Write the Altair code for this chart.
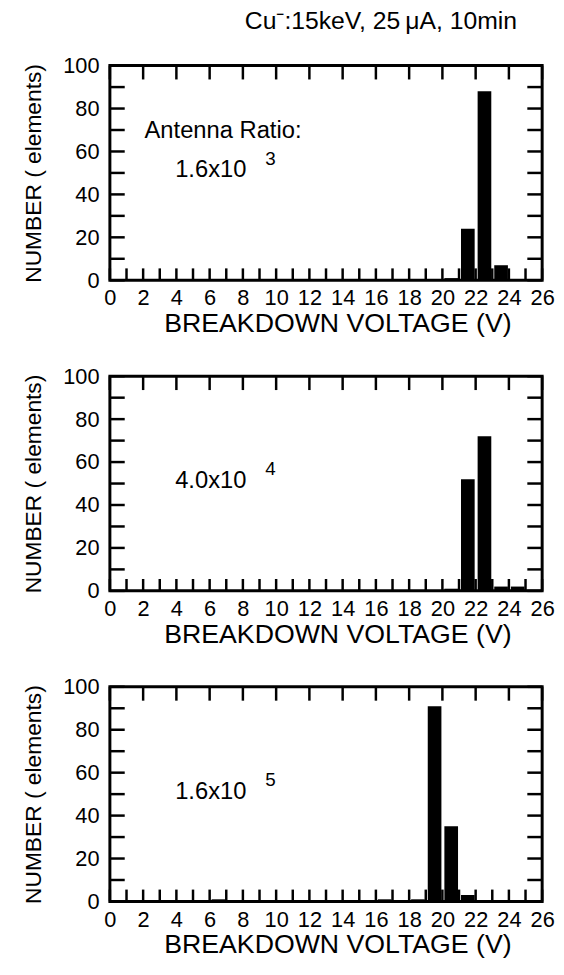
import altair as alt
import pandas as pd

# ---- data ----
title_text = ["Cu\u207b:15keV, 25\u2009\u03bcA, 10min"]
x_label_values = list(range(0, 27, 2))
x_minor_values = list(range(0, 27, 1))
y_label_values = list(range(0, 101, 20))
y_tick_values = list(range(0, 101, 10))

p1_start = [20, 21, 22, 23]
p1_count = [1, 24, 88, 7]
p2_start = [20, 21, 22, 23, 24]
p2_count = [1, 52, 72, 2, 2]
p3_start = [6, 16, 18, 19, 20, 21]
p3_count = [1, 1, 1, 91, 35, 3]

ratio_label = ["Antenna Ratio:"]
ratio_mantissa = ["1.6x10", "4.0x10", "1.6x10"]
ratio_exponent = ["3", "4", "5"]

W, H = 437, 217
FONT = "Liberation Sans"

xscale = alt.Scale(domain=[0, 26], nice=False, zero=False)
yscale = alt.Scale(domain=[0, 100], nice=False)
xaxis = alt.Axis(values=x_label_values, title="BREAKDOWN VOLTAGE (V)",
                 ticks=False, domain=False, grid=False, labelFlush=False,
                 labelPadding=8, titlePadding=2, titleFontSize=27, titleX=230)
yaxis = alt.Axis(values=y_label_values, title="NUMBER ( elements)",
                 ticks=False, domain=False, grid=False, labelFlush=False,
                 labelPadding=11, titlePadding=17, titleFontSize=23)


def panel(starts, counts, idx):
    df = pd.DataFrame({"start": starts, "end": [s + 1 for s in starts], "count": counts})
    bars = alt.Chart(df).mark_bar(color="black", binSpacing=3).encode(
        x=alt.X("start:Q", bin="binned", scale=xscale, axis=xaxis),
        x2="end:Q",
        y=alt.Y("count:Q", scale=yscale, axis=yaxis),
    )
    rule = dict(color="black", strokeWidth=2.5)
    bottom_ticks = alt.Chart(pd.DataFrame({"v": x_minor_values})).mark_rule(**rule).encode(
        x=alt.X("v:Q", scale=xscale, axis=xaxis),
        y=alt.value(H), y2=alt.value(H - 12))
    top_ticks = alt.Chart(pd.DataFrame({"v": x_label_values})).mark_rule(**rule).encode(
        x=alt.X("v:Q", scale=xscale, axis=xaxis),
        y=alt.value(0), y2=alt.value(14))
    left_ticks = alt.Chart(pd.DataFrame({"v": y_tick_values})).mark_rule(**rule).encode(
        y=alt.Y("v:Q", scale=yscale, axis=yaxis),
        x=alt.value(0), x2=alt.value(15))
    right_ticks = alt.Chart(pd.DataFrame({"v": y_tick_values})).mark_rule(**rule).encode(
        y=alt.Y("v:Q", scale=yscale, axis=yaxis),
        x=alt.value(W - 15), x2=alt.value(W))
    mant = alt.Chart(pd.DataFrame({"t": [ratio_mantissa[idx]]})).mark_text(
        font=FONT, fontSize=24, align="left", baseline="middle", color="black").encode(
        text="t:N", x=alt.value(66), y=alt.value(106))
    expo = alt.Chart(pd.DataFrame({"t": [ratio_exponent[idx]]})).mark_text(
        font=FONT, fontSize=19, align="left", baseline="middle", color="black").encode(
        text="t:N", x=alt.value(157), y=alt.value(94))
    layers = [bars, bottom_ticks, top_ticks, left_ticks, right_ticks, mant, expo]
    if idx == 0:
        lab = alt.Chart(pd.DataFrame({"t": ratio_label})).mark_text(
            font=FONT, fontSize=24, align="left", baseline="middle", color="black").encode(
            text="t:N", x=alt.value(35), y=alt.value(66))
        ttl = alt.Chart(pd.DataFrame({"t": title_text})).mark_text(
            font=FONT, fontSize=25, align="center", baseline="alphabetic", color="black").encode(
            text="t:N", x=alt.value(274), y=alt.value(-37))
        layers += [lab, ttl]
    return alt.layer(*layers).properties(width=W, height=H)


chart = alt.vconcat(
    panel(p1_start, p1_count, 0),
    panel(p2_start, p2_count, 1),
    panel(p3_start, p3_count, 2),
    spacing=97, bounds="flush",
).properties(
    padding={"left": 13, "top": -6, "right": 0, "bottom": 0}, background="white"
).configure_view(
    stroke="black", strokeWidth=3
).configure_axis(
    labelFont=FONT, labelFontSize=22, labelColor="black",
    titleFont=FONT, titleFontWeight="normal", titleColor="black",
)

chart.save("out.html", embed_options={"renderer": "svg", "actions": False})
